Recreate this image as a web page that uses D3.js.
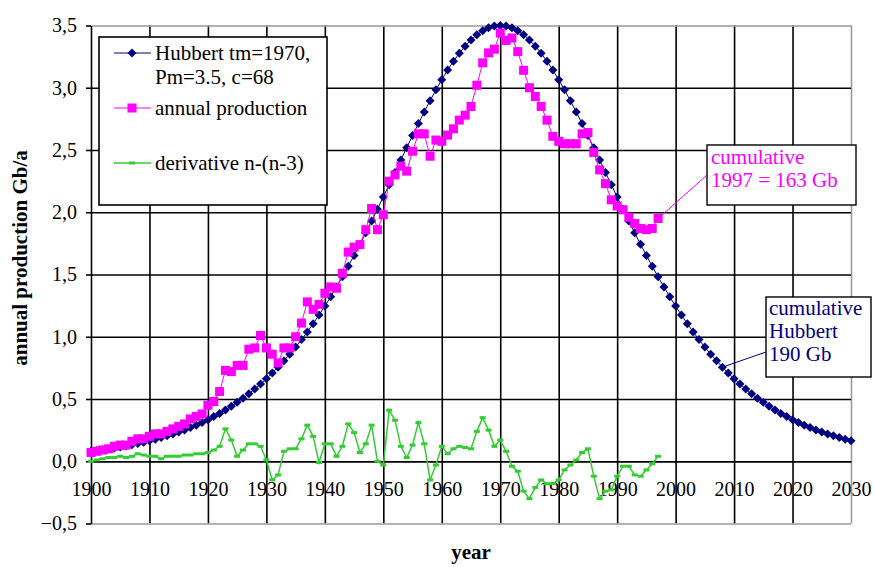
<!DOCTYPE html>
<html>
<head>
<meta charset="utf-8">
<script src="https://cdn.jsdelivr.net/npm/d3@7"></script>
<style>
  body { margin: 0; background: #fff; }
  svg text { font-family: "Liberation Serif", "Times New Roman", serif; fill: #000; }
</style>
</head>
<body>
<div id="chart"></div>
<script>
(function () {

  // Data
  const firstYear = 1900
  const hubbert = [
    0.080, 0.086, 0.092, 0.099, 0.106, 0.114, 0.123, 0.132, 0.142, 0.153,
    0.164, 0.176, 0.190, 0.204, 0.219, 0.235, 0.252, 0.271, 0.290, 0.312,
    0.334, 0.359, 0.384, 0.412, 0.441, 0.473, 0.506, 0.542, 0.580, 0.620,
    0.663, 0.708, 0.756, 0.807, 0.860, 0.917, 0.977, 1.039, 1.105, 1.174,
    1.246, 1.321, 1.400, 1.481, 1.566, 1.653, 1.742, 1.835, 1.929, 2.025,
    2.123, 2.221, 2.320, 2.420, 2.518, 2.616, 2.712, 2.805, 2.896, 2.983,
    3.065, 3.142, 3.213, 3.277, 3.334, 3.384, 3.425, 3.457, 3.481, 3.495,
    3.500,
    3.495, 3.481, 3.457, 3.425, 3.384, 3.334, 3.277, 3.213, 3.142, 3.065,
    2.983, 2.896, 2.805, 2.712, 2.616, 2.518, 2.420, 2.320, 2.221, 2.123,
    2.025, 1.929, 1.835, 1.742, 1.653, 1.566, 1.481, 1.400, 1.321, 1.246,
    1.174, 1.105, 1.039, 0.977, 0.917, 0.860, 0.807, 0.756, 0.708, 0.663,
    0.620, 0.580, 0.542, 0.506, 0.473, 0.441, 0.412, 0.384, 0.359, 0.334,
    0.312, 0.290, 0.271, 0.252, 0.235, 0.219, 0.204, 0.190, 0.176, 0.164
  ]
  const annual = [
    0.07, 0.08, 0.09, 0.10, 0.12, 0.13, 0.13, 0.16, 0.18, 0.18,
    0.20, 0.22, 0.22, 0.24, 0.26, 0.28, 0.30, 0.34, 0.36, 0.38,
    0.45, 0.48, 0.56, 0.73, 0.72, 0.77, 0.77, 0.90, 0.91, 1.01,
    0.91, 0.86, 0.79, 0.91, 0.91, 1.00, 1.11, 1.28, 1.22, 1.26,
    1.35, 1.40, 1.39, 1.51, 1.68, 1.72, 1.74, 1.86, 2.03, 1.86,
    1.98, 2.25, 2.30, 2.37, 2.33, 2.49, 2.63, 2.63, 2.45, 2.58,
    2.57, 2.62, 2.67, 2.74, 2.78, 2.85, 3.02, 3.20, 3.28, 3.31,
    3.44, 3.38, 3.40, 3.29, 3.14, 3.00, 2.93, 2.85, 2.74, 2.61,
    2.57, 2.55, 2.55, 2.55, 2.63, 2.64, 2.48, 2.34, 2.23, 2.10,
    2.05, 2.02, 1.96, 1.91, 1.87, 1.86, 1.87, 1.95
  ]
  const derivative = [
    0.00, 0.01, 0.02, 0.03, 0.03, 0.04, 0.03, 0.04, 0.06, 0.05,
    0.04, 0.04, 0.02, 0.04, 0.04, 0.04, 0.05, 0.05, 0.06, 0.06,
    0.07, 0.09, 0.12, 0.26, 0.17, 0.04, 0.09, 0.14, 0.14, 0.12,
    0.01, -0.15, -0.11, 0.08, 0.10, 0.10, 0.18, 0.29, 0.20, -0.01,
    0.14, 0.14, 0.04, 0.12, 0.30, 0.23, 0.07, 0.14, 0.29, 0.00,
    -0.03, 0.41, 0.33, 0.12, 0.03, 0.13, 0.31, 0.14, -0.15, -0.03,
    0.12, 0.06, 0.10, 0.12, 0.11, 0.10, 0.24, 0.35, 0.25, 0.12,
    0.17, 0.08, -0.04, -0.08, -0.24, -0.30, -0.21, -0.15, -0.18, -0.18,
    -0.15, -0.07, -0.03, 0.01, 0.07, 0.10, -0.12, -0.30, -0.24, -0.23,
    -0.12, -0.04, -0.04, -0.11, -0.12, -0.07, -0.02, 0.04
  ]
  const xTicks = [1900, 1910, 1920, 1930, 1940, 1950, 1960, 1970, 1980, 1990, 2000, 2010, 2020, 2030]
  const yTicks = [-0.5, 0, 0.5, 1, 1.5, 2, 2.5, 3, 3.5]
  const legendLabels = [["Hubbert tm=1970,", "Pm=3.5, c=68"], ["annual production"], ["derivative n-(n-3)"]]
  const noteProduction = ["cumulative", "1997 = 163 Gb"]
  const noteHubbert = ["cumulative", "Hubbert", "190 Gb"]
  const noteHubbertYear = 2008

  const NAVY = "#000080", MAGENTA = "#ff00ff", GREEN = "#33cc33"

  // Margin convention
  const margin = { top: 25.5, right: 23, bottom: 43.5, left: 91 }
  const width = 874 - margin.left - margin.right
  const height = 567 - margin.top - margin.bottom

  const xScale = d3.scaleLinear().domain([1900, 2030]).range([0, width])
  const yScale = d3.scaleLinear().domain([-0.5, 3.5]).range([height, 0])
  const yearOf = i => firstYear + i

  const comma = d3.formatLocale({ decimal: ",", thousands: ".", grouping: [3], currency: ["", ""] }).format(".1f")

  const root = d3.select("#chart").append("svg")
    .attr("width", 874)
    .attr("height", 567)

  const svg = root.append("g")
    .attr("transform", `translate(${margin.left},${margin.top})`)

  // Grid
  svg.append("g")
    .attr("transform", `translate(0,${height})`)
    .call(d3.axisBottom(xScale).tickValues(xTicks.slice(1)).tickSize(-height).tickFormat(""))
    .call(g => g.select(".domain").remove())
    .selectAll("line")
    .attr("stroke", d => d === 2030 ? "#999" : "#000")
    .attr("stroke-width", 1.6)

  svg.append("g")
    .call(d3.axisLeft(yScale).tickValues(yTicks).tickSize(-width).tickFormat(""))
    .call(g => g.select(".domain").remove())
    .selectAll("line")
    .attr("stroke", d => (d === 3.5 || d === -0.5) ? "#999" : "#000")
    .attr("stroke-width", 1.6)

  // Y axis
  svg.append("g")
    .call(d3.axisLeft(yScale).tickValues(yTicks).tickSizeInner(5).tickSizeOuter(0).tickPadding(9).tickFormat(comma))
    .call(g => g.selectAll("line, path").attr("stroke", "#000").attr("stroke-width", 1.6))
    .call(g => g.selectAll("text").attr("font-size", 20).attr("font-family", null))

  // X axis sits on zero
  svg.append("g")
    .attr("transform", `translate(0,${yScale(0)})`)
    .call(d3.axisBottom(xScale).tickValues(xTicks).tickSize(0).tickPadding(21).tickFormat(d3.format("d")))
    .call(g => g.select(".domain").attr("stroke", "#000").attr("stroke-width", 1.6))
    .call(g => g.selectAll("text").attr("font-size", 20).attr("font-family", null))

  const line = d3.line()
    .x((d, i) => xScale(yearOf(i)))
    .y(d => yScale(d))

  const diamond = "M0,-4.5L4.5,0L0,4.5L-4.5,0Z"

  // Hubbert curve
  svg.append("path")
    .datum(hubbert)
    .attr("d", line)
    .attr("fill", "none")
    .attr("stroke", NAVY)
    .attr("stroke-width", 1)

  svg.selectAll(".hub")
    .data(hubbert)
    .join("path")
    .attr("class", "hub")
    .attr("d", diamond)
    .attr("transform", (d, i) => `translate(${xScale(yearOf(i))},${yScale(d)})`)
    .attr("fill", NAVY)

  // Annual production
  svg.append("path")
    .datum(annual)
    .attr("d", line)
    .attr("fill", "none")
    .attr("stroke", MAGENTA)
    .attr("stroke-width", 1)

  svg.selectAll(".prod")
    .data(annual)
    .join("rect")
    .attr("class", "prod")
    .attr("x", (d, i) => xScale(yearOf(i)) - 4.5)
    .attr("y", d => yScale(d) - 4.5)
    .attr("width", 9)
    .attr("height", 9)
    .attr("fill", MAGENTA)

  // Derivative
  svg.append("path")
    .datum(derivative)
    .attr("d", line)
    .attr("fill", "none")
    .attr("stroke", GREEN)
    .attr("stroke-width", 1.5)

  svg.selectAll(".deriv")
    .data(derivative)
    .join("rect")
    .attr("class", "deriv")
    .attr("x", (d, i) => xScale(yearOf(i)) - 3)
    .attr("y", d => yScale(d) - 1.5)
    .attr("width", 6)
    .attr("height", 3)
    .attr("fill", GREEN)

  // Axis titles
  root.append("text")
    .attr("transform", "translate(27,258) rotate(-90)")
    .attr("text-anchor", "middle")
    .attr("font-size", 21)
    .attr("font-weight", "bold")
    .text("annual production Gb/a")

  root.append("text")
    .attr("x", margin.left + width / 2)
    .attr("y", 559)
    .attr("text-anchor", "middle")
    .attr("font-size", 21)
    .attr("font-weight", "bold")
    .text("year")

  // Legend
  const legend = root.append("g")
  legend.append("rect")
    .attr("x", 99).attr("y", 37).attr("width", 228).attr("height", 168)
    .attr("fill", "#fff").attr("stroke", "#000").attr("stroke-width", 1.6)

  const legendRows = [
    { y: 53, color: NAVY, mark: "diamond", width: 1 },
    { y: 108, color: MAGENTA, mark: "square", width: 1 },
    { y: 163, color: GREEN, mark: "dash", width: 1.5 }
  ]
  legendRows.forEach((r, k) => {
    legend.append("line")
      .attr("x1", 114).attr("x2", 151).attr("y1", r.y).attr("y2", r.y)
      .attr("stroke", r.color).attr("stroke-width", r.width)
    if (r.mark === "diamond") {
      legend.append("path").attr("d", diamond).attr("transform", `translate(132,${r.y})`).attr("fill", r.color)
    } else if (r.mark === "square") {
      legend.append("rect").attr("x", 127.5).attr("y", r.y - 4.5).attr("width", 9).attr("height", 9).attr("fill", r.color)
    } else {
      legend.append("rect").attr("x", 129).attr("y", r.y - 1.5).attr("width", 6).attr("height", 3).attr("fill", r.color)
    }
    legendLabels[k].forEach((t, j) => {
      legend.append("text")
        .attr("x", 155).attr("y", r.y + 7 + j * 24)
        .attr("font-size", 21)
        .text(t)
    })
  })

  // Callouts
  const lastI = annual.length - 1
  const p1 = [margin.left + xScale(yearOf(lastI)), margin.top + yScale(annual[lastI])]
  root.append("line")
    .attr("x1", p1[0]).attr("y1", p1[1]).attr("x2", 707).attr("y2", 175)
    .attr("stroke", MAGENTA).attr("stroke-width", 1)
  root.append("rect")
    .attr("x", 707).attr("y", 145).attr("width", 149).attr("height", 60)
    .attr("fill", "#fff").attr("stroke", "#000").attr("stroke-width", 1.4)
  noteProduction.forEach((t, j) => {
    root.append("text").attr("x", 711).attr("y", 164 + j * 23)
      .attr("font-size", 21).style("fill", MAGENTA).text(t)
  })

  const hi = noteHubbertYear - firstYear
  const p2 = [margin.left + xScale(noteHubbertYear), margin.top + yScale(hubbert[hi])]
  root.append("line")
    .attr("x1", p2[0]).attr("y1", p2[1]).attr("x2", 766).attr("y2", 352)
    .attr("stroke", NAVY).attr("stroke-width", 1)
  root.append("rect")
    .attr("x", 766).attr("y", 297).attr("width", 105).attr("height", 80)
    .attr("fill", "#fff").attr("stroke", "#000").attr("stroke-width", 1.4)
  noteHubbert.forEach((t, j) => {
    root.append("text").attr("x", 769).attr("y", 315 + j * 23)
      .attr("font-size", 21).style("fill", NAVY).text(t)
  })

})();
</script>
</body>
</html>
